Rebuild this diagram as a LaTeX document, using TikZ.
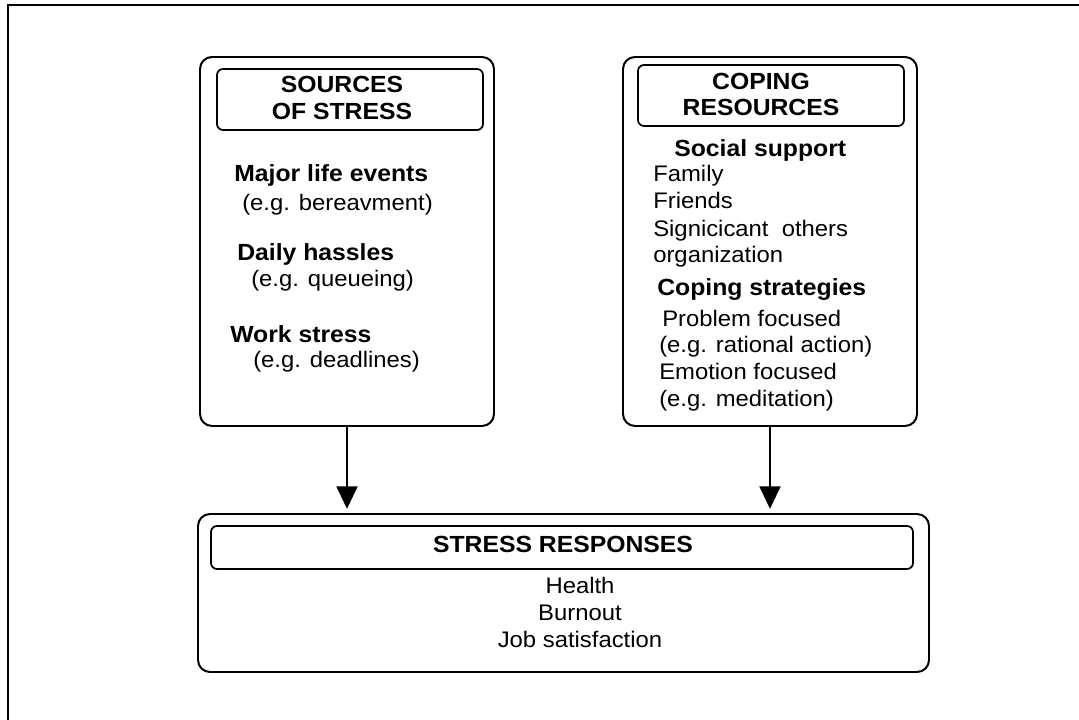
\documentclass[tikz,border=0pt]{standalone}
\usepackage{fontspec}
\setmainfont{Liberation Sans}[FakeStretch=1.06]
\usetikzlibrary{arrows.meta,fit}

\begin{document}
\begin{tikzpicture}[x=0.025cm,y=-0.025cm,
  bigbox/.style={draw,line width=1.4pt,rounded corners=0.3cm,inner sep=0pt},
  headbox/.style={draw,line width=1.2pt,rounded corners=0.15cm,inner sep=0pt},
  head/.style={font=\fontsize{16.6}{19}\selectfont\bfseries,anchor=base,inner sep=0pt},
  item/.style={font=\fontsize{16.6}{19}\selectfont\bfseries,anchor=base west,inner sep=0pt},
  txt/.style={font=\fontsize{16}{19}\selectfont,anchor=base west,inner sep=0pt},
  flow/.style={line width=1.3pt,-{Triangle[length=16pt,width=15pt]},shorten >=3pt}]
\useasboundingbox (0,0) rectangle (1079,720);

% Frame
\draw[line width=1pt] (8,720) -- (8,5) -- (1079,5);

% Boxes
\node[bigbox,fit={(200,57) (494,426)}] (sources) {};
\node[headbox,fit={(217,69) (483,130)}] (sourceshead) {};
\node[bigbox,fit={(623,57) (917,426)}] (coping) {};
\node[headbox,fit={(638,65) (904,126)}] (copinghead) {};
\node[bigbox,fit={(198,514) (929,672)}] (responses) {};
\node[headbox,fit={(211,526) (913,569)}] (responseshead) {};

% Sources of stress
\node[head] (src1) at (342,93) {SOURCES};
\node[head] (src2) at (342,120) {OF STRESS};
\node[item] (major) at (234,182) {Major life events};
\node[txt] (majorex) at (242,211) {(e.g. bereavment)};
\node[item] (daily) at (237,261) {Daily hassles};
\node[txt] (dailyex) at (251,287) {(e.g. queueing)};
\node[item] (work) at (230,343) {Work stress};
\node[txt] (workex) at (253,368) {(e.g. deadlines)};

% Coping resources
\node[head] (cop1) at (761,90) {COPING};
\node[head] (cop2) at (761,116) {RESOURCES};
\node[item] (social) at (674,157) {Social support};
\node[txt] (family) at (653,182) {Family};
\node[txt] (friends) at (653,209) {Friends};
\node[txt] (others) at (653,237) {Signicicant\ \ others};
\node[txt] (organ) at (653,263) {organization};
\node[item] (strat) at (657,296) {Coping strategies};
\node[txt] (problem) at (662,327) {Problem focused};
\node[txt] (problemex) at (659,353) {(e.g. rational action)};
\node[txt] (emotion) at (659,380) {Emotion focused};
\node[txt] (emotionex) at (659,407) {(e.g. meditation)};

% Stress responses
\node[head] (resp) at (563,553) {STRESS RESPONSES};
\node[txt,anchor=base] (health) at (580,594) {Health};
\node[txt,anchor=base] (burnout) at (580,621) {Burnout};
\node[txt,anchor=base] (job) at (580,648) {Job satisfaction};

% Arrows
\draw[flow] (sources.south) -- (sources.south |- responses.north);
\draw[flow] (coping.south) -- (coping.south |- responses.north);
\end{tikzpicture}
\end{document}
